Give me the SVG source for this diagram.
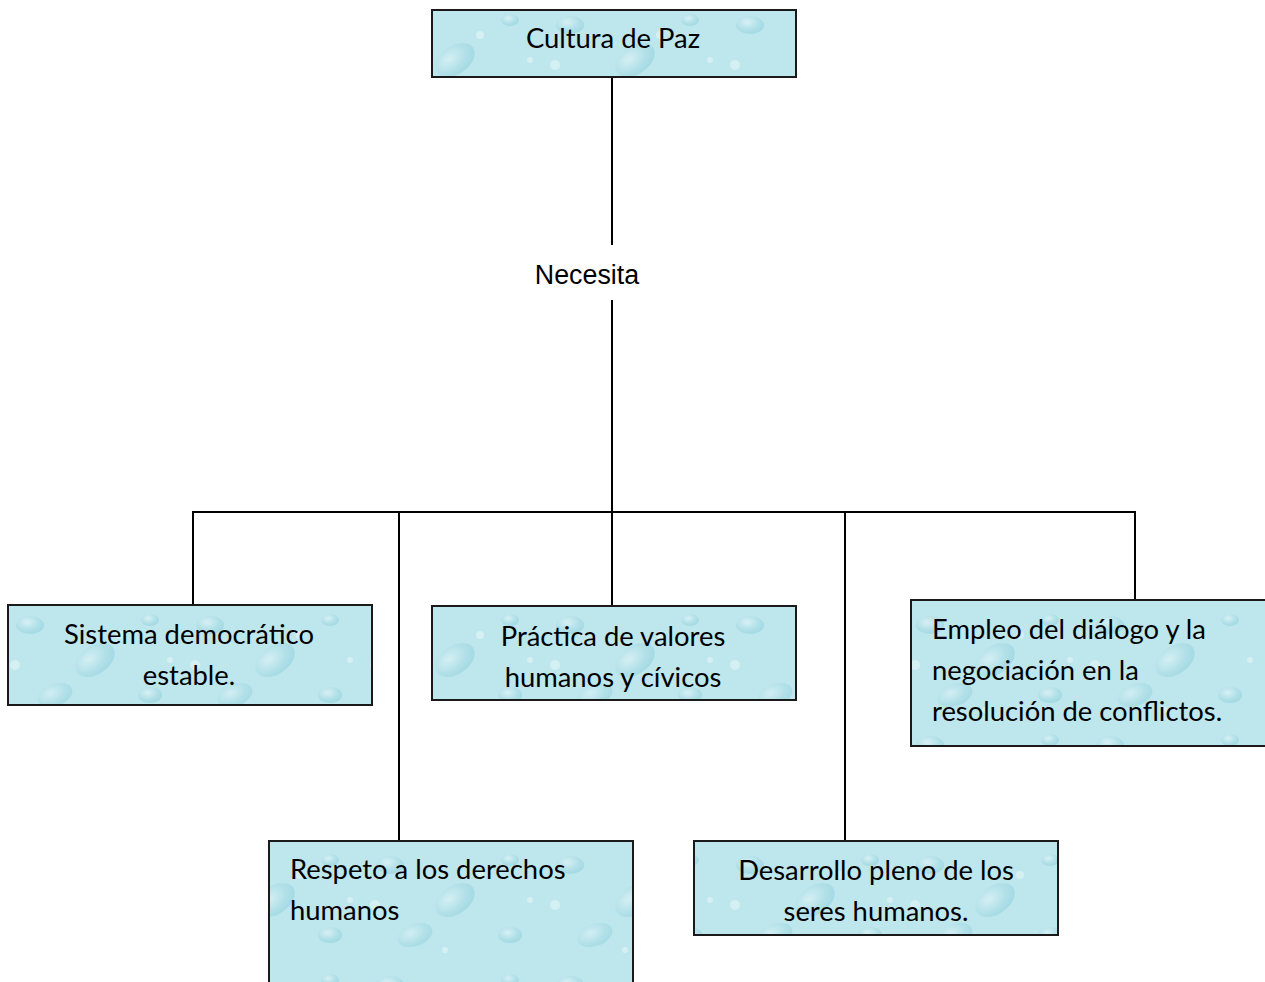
<svg xmlns="http://www.w3.org/2000/svg" width="1265" height="982" viewBox="0 0 1265 982">
<style>
.box{fill:url(#drops);stroke:#1a1a1a;stroke-width:2}
.t{font-family:Lato,"Open Sans","Liberation Sans",sans-serif;font-size:27.4px;fill:#000}
.c{text-anchor:middle}
.conn{stroke:#000;stroke-width:2;fill:none}
.lbl{font-family:"Liberation Sans",Arial,sans-serif;font-size:26.8px;fill:#000}
</style>
<defs>
<radialGradient id="dg" cx="40%" cy="35%" r="70%">
<stop offset="0" stop-color="#e6f7f9"/>
<stop offset="0.6" stop-color="#a9dbe4"/>
<stop offset="1" stop-color="#8ccfdb"/>
</radialGradient>
<pattern id="drops" patternUnits="userSpaceOnUse" width="180" height="120">
<rect width="180" height="120" fill="#bde6ed"/>
<ellipse cx="30" cy="25" rx="14" ry="9" fill="url(#dg)" opacity="0.6"/>
<ellipse cx="95" cy="60" rx="22" ry="14" fill="url(#dg)" opacity="0.55" transform="rotate(-35 95 60)"/>
<ellipse cx="150" cy="20" rx="9" ry="6" fill="url(#dg)" opacity="0.6"/>
<ellipse cx="55" cy="95" rx="18" ry="11" fill="url(#dg)" opacity="0.5" transform="rotate(-20 55 95)"/>
<ellipse cx="150" cy="95" rx="12" ry="8" fill="url(#dg)" opacity="0.6"/>
<circle cx="120" cy="35" r="4" fill="#d9f2f5" opacity="0.8"/>
<circle cx="15" cy="65" r="5" fill="#d9f2f5" opacity="0.8"/>
<circle cx="170" cy="60" r="3" fill="#d9f2f5" opacity="0.8"/>
<circle cx="85" cy="110" r="3" fill="#d9f2f5" opacity="0.8"/>
</pattern>
</defs>
<g id="connectors">
<line class="conn" x1="612" y1="77" x2="612" y2="245"/>
<line class="conn" x1="612" y1="300" x2="612" y2="512"/>
<line class="conn" x1="192" y1="512" x2="1136" y2="512"/>
<line class="conn" x1="193" y1="511" x2="193" y2="605"/>
<line class="conn" x1="399" y1="511" x2="399" y2="841"/>
<line class="conn" x1="612" y1="511" x2="612" y2="606"/>
<line class="conn" x1="845" y1="511" x2="845" y2="841"/>
<line class="conn" x1="1135" y1="511" x2="1135" y2="600"/>
</g>
<g id="necesita">
<text class="lbl" x="587" y="284" text-anchor="middle">Necesita</text>
</g>
<g id="cultura">
<rect class="box" x="432" y="10" width="364" height="67"/>
<text class="t c" x="613" y="48">Cultura de Paz</text>
</g>
<g id="sistema">
<rect class="box" x="8" y="605" width="364" height="100"/>
<text class="t c" x="189" y="644">Sistema democrático</text>
<text class="t c" x="189" y="685">estable.</text>
</g>
<g id="practica">
<rect class="box" x="432" y="606" width="364" height="94"/>
<text class="t c" x="613" y="646">Práctica de valores</text>
<text class="t c" x="613" y="687">humanos y cívicos</text>
</g>
<g id="empleo">
<rect class="box" x="911" y="600" width="360" height="146"/>
<text class="t" x="932" y="639">Empleo del diálogo y la</text>
<text class="t" x="932" y="680">negociación en la</text>
<text class="t" x="932" y="721">resolución de conflictos.</text>
</g>
<g id="respeto">
<rect class="box" x="269" y="841" width="364" height="150"/>
<text class="t" x="290" y="879">Respeto a los derechos</text>
<text class="t" x="290" y="920">humanos</text>
</g>
<g id="desarrollo">
<rect class="box" x="694" y="841" width="364" height="94"/>
<text class="t c" x="876" y="880">Desarrollo pleno de los</text>
<text class="t c" x="876" y="921">seres humanos.</text>
</g>
</svg>
